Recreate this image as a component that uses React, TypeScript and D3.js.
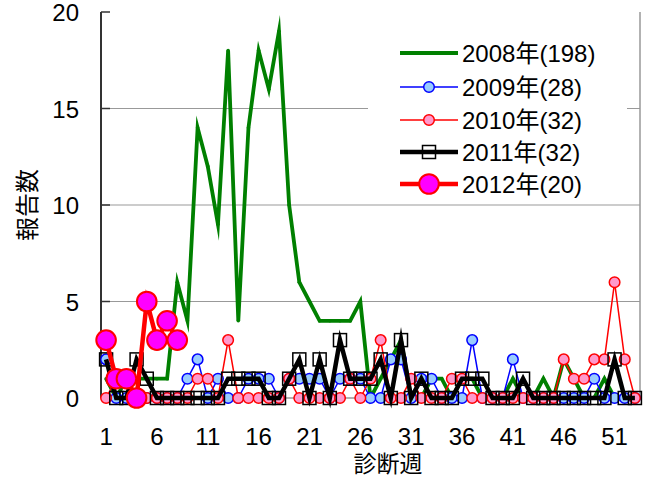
import React, { useEffect, useRef } from 'react';
import * as d3 from 'd3';

// weekly report counts, weeks 1..53
const weeks = d3.range(1, 54);
const s2008 = [1,0,1,1,1,1,1,6,4,14, 12,9,18,4,14,18,16,19,10,6, 5,4,4,4,4,5,0,1,2,3, 0,0,1,1,0,1,1,0,0,0, 1,0,0,1,0,2,1,0,0,1, 0,0,0];
const s2009 = [2,0,0,0,0,0,0,0,1,2, 0,1,0,0,1,1,1,0,1,1, 1,1,0,1,1,1,0,0,2,2, 0,1,1,0,0,0,3,0,0,0, 2,0,0,0,0,0,0,0,1,0, 0,0,0];
const s2010 = [0,1,1,0,0,0,0,0,0,1, 1,0,3,0,0,0,0,0,1,0, 0,0,0,0,1,0,1,3,0,0, 1,0,0,0,1,1,0,0,0,0, 0,0,0,0,0,2,1,1,2,2, 6,2,0];
const s2011 = [2,0,0,2,1,0,0,0,0,0, 0,0,1,1,1,1,0,0,1,2, 0,2,0,3,1,1,1,2,0,3, 0,1,0,0,0,1,1,1,0,0, 0,1,0,0,0,0,0,0,0,0, 2,0,0];
const s2012 = [3,1,1,0,5,3,4,3];

const legendLabels = ['2008年(198)', '2009年(28)', '2010年(32)', '2011年(32)', '2012年(20)'];
const xTickLabels = [1, 6, 11, 16, 21, 26, 31, 36, 41, 46, 51];
const yTicks = [0, 5, 10, 15, 20];

const FONT = '"Liberation Sans", Arial, "Noto Sans CJK JP", sans-serif';

type Series = {
  values: number[];
  color: string;
  width: number;
  marker: 'dot' | 'circle' | 'square';
  size: number;
  fill: string;
  stroke: string;
  strokeWidth: number;
};

const series: Series[] = [
  { values: s2008, color: '#008000', width: 3.8, marker: 'dot', size: 1.8, fill: '#008000', stroke: '#008000', strokeWidth: 0 },
  { values: s2009, color: '#0000ff', width: 1.5, marker: 'circle', size: 5.3, fill: '#99ccff', stroke: '#0000ff', strokeWidth: 1.5 },
  { values: s2010, color: '#ff0000', width: 1.5, marker: 'circle', size: 5.3, fill: '#ff99cc', stroke: '#ff0000', strokeWidth: 1.5 },
  { values: s2011, color: '#000000', width: 4.5, marker: 'square', size: 13, fill: 'none', stroke: '#000000', strokeWidth: 1.5 },
  { values: s2012, color: '#ff0000', width: 4.5, marker: 'circle', size: 9.8, fill: '#ff00ff', stroke: '#ff0000', strokeWidth: 2 },
];

function drawMarker(g: d3.Selection<SVGGElement, unknown, null, undefined>, s: Series, cx: number, cy: number) {
  if (s.marker === 'square') {
    g.append('rect')
      .attr('x', cx - s.size / 2).attr('y', cy - s.size / 2)
      .attr('width', s.size).attr('height', s.size)
      .attr('fill', s.fill).attr('stroke', s.stroke).attr('stroke-width', s.strokeWidth);
  } else {
    g.append('circle')
      .attr('cx', cx).attr('cy', cy).attr('r', s.size)
      .attr('fill', s.fill).attr('stroke', s.stroke).attr('stroke-width', s.strokeWidth);
  }
}

export default function App() {
  const svgRef = useRef<SVGSVGElement>(null);

  useEffect(() => {
    const svg = d3.select(svgRef.current);
    svg.selectAll('*').remove();

    const x = d3.scaleLinear().domain([0.5, weeks.length + 0.5]).range([101, 640]);
    const y = d3.scaleLinear().domain([0, 20]).range([398, 12]);

    // grid + frame
    svg.append('g').selectAll('line')
      .data(yTicks.filter(t => t > 0 && t < 20))
      .join('line')
      .attr('x1', 101).attr('x2', 640)
      .attr('y1', d => y(d)).attr('y2', d => y(d))
      .attr('stroke', '#999').attr('stroke-width', 1.2);
    svg.append('line')
      .attr('x1', 640).attr('x2', 640).attr('y1', y(20)).attr('y2', y(0))
      .attr('stroke', '#999').attr('stroke-width', 1.5);
    svg.append('line')
      .attr('x1', 101).attr('x2', 640).attr('y1', y(0)).attr('y2', y(0))
      .attr('stroke', '#999').attr('stroke-width', 1.5);

    // legend background (covers grid)
    svg.append('rect')
      .attr('x', 368).attr('y', 30).attr('width', 259).attr('height', 172)
      .attr('fill', '#fff');

    // y axis
    const ya = svg.append('g');
    ya.append('line')
      .attr('x1', 101).attr('x2', 101).attr('y1', y(20)).attr('y2', y(0))
      .attr('stroke', '#333').attr('stroke-width', 2);
    ya.selectAll('line.tick')
      .data(yTicks)
      .join('line')
      .attr('class', 'tick')
      .attr('x1', 101).attr('x2', 110)
      .attr('y1', d => y(d)).attr('y2', d => y(d))
      .attr('stroke', '#333').attr('stroke-width', 1.5);
    ya.selectAll('text')
      .data(yTicks)
      .join('text')
      .attr('x', 79).attr('y', d => y(d) + 9)
      .attr('text-anchor', 'end')
      .attr('font-family', FONT).attr('font-size', 24)
      .text(d => d);

    // x labels
    svg.append('g').selectAll('text')
      .data(xTickLabels)
      .join('text')
      .attr('x', d => x(d)).attr('y', 445)
      .attr('text-anchor', 'middle')
      .attr('font-family', FONT).attr('font-size', 24)
      .text(d => d);

    // titles
    svg.append('text')
      .attr('transform', 'translate(27,205) rotate(-90)')
      .attr('text-anchor', 'middle').attr('dominant-baseline', 'central')
      .attr('font-family', FONT).attr('font-size', 24)
      .text('報告数');
    svg.append('text')
      .attr('x', 388).attr('y', 464)
      .attr('text-anchor', 'middle').attr('dominant-baseline', 'central')
      .attr('font-family', FONT).attr('font-size', 23)
      .text('診断週');

    // series
    const lineGen = d3.line<number>()
      .x((_, i) => x(weeks[i]))
      .y(d => y(d));
    series.forEach(s => {
      const g = svg.append('g');
      g.append('path')
        .attr('d', lineGen(s.values))
        .attr('fill', 'none')
        .attr('stroke', s.color)
        .attr('stroke-width', s.width)
        .attr('stroke-linejoin', 'miter')
        .attr('stroke-miterlimit', 10);
      s.values.forEach((v, i) => drawMarker(g, s, x(weeks[i]), y(v)));
    });

    // legend entries
    const lg = svg.append('g');
    const legendY = [53, 87, 120, 152, 184];
    series.forEach((s, i) => {
      const ly = legendY[i];
      lg.append('line')
        .attr('x1', 400).attr('x2', 458).attr('y1', ly).attr('y2', ly)
        .attr('stroke', s.color).attr('stroke-width', s.width);
      drawMarker(lg, s, 429, ly);
      lg.append('text')
        .attr('x', 462).attr('y', ly + 9)
        .attr('font-family', FONT).attr('font-size', 24)
        .text(legendLabels[i]);
    });
  }, []);

  return (
    <svg
      ref={svgRef}
      width={647}
      height={479}
      style={{ position: 'absolute', left: 0, top: 0, background: '#fff' }}
    />
  );
}
